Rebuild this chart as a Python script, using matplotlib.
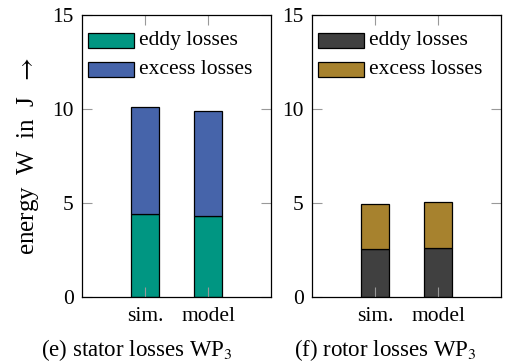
from matplotlib import pyplot as plt
from matplotlib.patches import Rectangle
import numpy as np

plt.rcParams['font.family'] = ['Liberation Serif', 'DejaVu Serif']
plt.rcParams['mathtext.fontset'] = 'stix'

# stacked loss energies in J
cats = ['sim.', 'model']
stator_eddy = [4.40, 4.29]
stator_total = [10.09, 9.88]
rotor_eddy = [2.55, 2.61]
rotor_total = [4.93, 5.05]
stator_excess = [t - e for t, e in zip(stator_total, stator_eddy)]
rotor_excess = [t - e for t, e in zip(rotor_total, rotor_eddy)]
labels = ['eddy losses', 'excess losses']

yticks = [0, 5, 10, 15]
fs = 15.5

fig = plt.figure(figsize=(5.05, 3.64), dpi=100)
W, H = 505, 364
aw, ah = 189, 282
axL = fig.add_axes([82 / W, 1 - 297 / H, aw / W, ah / H])
axR = fig.add_axes([312 / W, 1 - 297 / H, aw / W, ah / H])

def panel(ax, eddy, excess, c1, c2):
    x = np.arange(len(cats))
    ax.bar(x, eddy, width=0.43, color=c1, edgecolor='black', linewidth=0.9)
    ax.bar(x, excess, width=0.43, bottom=eddy, color=c2, edgecolor='black',
           linewidth=0.9)
    ax.set_xlim(-1, 2)
    ax.set_ylim(0, 15)
    ax.set_xticks(x)
    ax.set_xticklabels(cats, fontsize=fs)
    ax.set_yticks(yticks)
    ax.set_yticklabels([str(v) for v in yticks], fontsize=fs)
    ax.tick_params(direction='in', length=7, width=0.8, color='#999999',
                   top=True, right=True, pad=6)
    ax.tick_params(axis='x', pad=7)
    for s in ax.spines.values():
        s.set_linewidth(0.9)
    # legend entries, placed in pixel offsets from the top-left corner
    for i, (c, lab) in enumerate(zip([c1, c2], labels)):
        top = 18 + 29 * i
        ax.add_patch(Rectangle((6 / aw, 1 - (top + 15) / ah), 46 / aw, 15 / ah,
                               transform=ax.transAxes, facecolor=c,
                               edgecolor='black', linewidth=0.9, zorder=5))
        ax.text(57 / aw, 1 - (top + 8) / ah, lab, transform=ax.transAxes,
                fontsize=fs, ha='left', va='center')

panel(axL, stator_eddy, stator_excess, '#009682', '#4664AA')
panel(axR, rotor_eddy, rotor_excess, '#404040', '#A7822E')

axL.set_ylabel('energy  W  in  J  $\\rightarrow$', fontsize=18, labelpad=8)

fig.text(137 / W, 1 - 350 / H, '(e) stator losses WP$_3$', fontsize=16.5,
         ha='center', va='center')
fig.text(385 / W, 1 - 350 / H, '(f) rotor losses WP$_3$', fontsize=16.5,
         ha='center', va='center')

fig.savefig('out.png', dpi=100)
